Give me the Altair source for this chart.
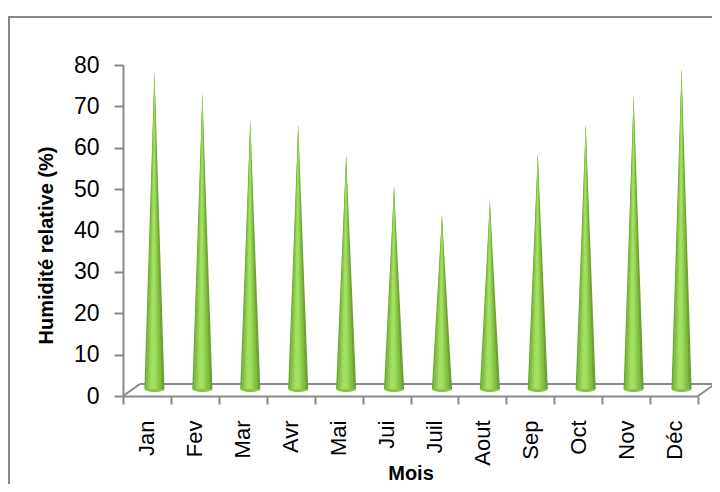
import altair as alt
import pandas as pd

months = ["Jan", "Fev", "Mar", "Avr", "Mai", "Jui", "Juil", "Aout", "Sep", "Oct", "Nov", "Déc"]
humidity = [77, 71.5, 65, 64, 56.5, 49, 42, 45.5, 57, 64, 71, 77.5]

HALF = 0.21  # cone half-width in category units
# shading strips of each cone: (left fraction, right fraction, colour), drawn back to front
SHADES = [(-1.0, 1.0, "#6ca334"), (-0.88, 0.72, "#7fbe41"), (-0.62, 0.42, "#91d150"), (-0.4, 0.14, "#a2e062")]

FONT = "Liberation Sans"
GRAY = "#898989"

xq = alt.Scale(domain=[-0.5, 11.5], nice=False, zero=False)
yscale = alt.Scale(domain=[0, 80], nice=False)

yaxis = alt.Axis(
    values=list(range(0, 81, 10)), title="Humidité relative (%)",
    grid=False, domainColor=GRAY, domainWidth=2, tickColor=GRAY, tickWidth=2,
    tickSize=9, labelFontSize=23, labelColor="black", labelFont=FONT, labelPadding=15,
    titleFont=FONT, titleFontSize=20, titleFontWeight="bold", titleColor="black",
    titleX=-77, titleY=180, titleAlign="center", titleBaseline="middle",
)

cone_layers = []
for k, (lo, hi, col) in enumerate(SHADES):
    rows = []
    for i, (m, v) in enumerate(zip(months, humidity)):
        rows.append({"month": m, "pos": i + lo * HALF, "val": 0})
        rows.append({"month": m, "pos": i, "val": v})
        rows.append({"month": m, "pos": i + hi * HALF, "val": 0})
    layer = alt.Chart(pd.DataFrame(rows)).mark_area(color=col, xOffset=7.5, yOffset=-7).encode(
        x=alt.X("pos:Q", scale=xq, axis=None),
        y=alt.Y("val:Q", scale=yscale, axis=yaxis),
        detail="month:N",
    )
    cone_layers.append(layer)

floor_src = pd.DataFrame({"a": [-0.5], "b": [11.5], "z": [0]})
back_edge = alt.Chart(floor_src).mark_rule(color=GRAY, strokeWidth=2, xOffset=17, x2Offset=17, yOffset=-12).encode(
    x=alt.X("a:Q", scale=xq, axis=None), x2="b:Q", y=alt.Y("z:Q", scale=yscale, axis=yaxis)
)
left_edge = alt.Chart(floor_src).mark_rule(color=GRAY, strokeWidth=2, x2Offset=17, y2Offset=-12).encode(
    x=alt.X("a:Q", scale=xq, axis=None), x2="a:Q", y=alt.Y("z:Q", scale=yscale, axis=yaxis), y2="z:Q"
)
right_edge = alt.Chart(floor_src).mark_rule(color=GRAY, strokeWidth=2, x2Offset=17, y2Offset=-12).encode(
    x=alt.X("b:Q", scale=xq, axis=None), x2="b:Q", y=alt.Y("z:Q", scale=yscale, axis=yaxis), y2="z:Q"
)

frame = alt.Chart(floor_src).mark_rect(fillOpacity=0, stroke=GRAY, strokeWidth=2).encode(
    x=alt.value(-114), x2=alt.value(640), y=alt.value(-48), y2=alt.value(470)
)

quant = alt.layer(frame, back_edge, left_edge, right_edge, *cone_layers)

xaxis = alt.Axis(
    labelAngle=-90, tickBand="extent", domainColor=GRAY, domainWidth=2, tickColor=GRAY,
    tickWidth=2, tickSize=8, labelFontSize=22, labelColor="black", labelFont=FONT,
    labelPadding=16, title="Mois", titleFont=FONT, titleFontSize=20, titleFontWeight="bold",
    titleColor="black", titleY=77, titleBaseline="middle",
)

bases = pd.DataFrame({"month": months, "val": [0] * len(months)})
base_pts = alt.Chart(bases).mark_point(
    shape="M -1 0 A 1 0.3 0 0 0 1 0 Z", size=400, filled=True, opacity=1,
    color="#86c547", xOffset=7.5, yOffset=-7,
).encode(
    x=alt.X("month:N", sort=months, scale=alt.Scale(paddingInner=0, paddingOuter=0), axis=xaxis),
    y=alt.Y("val:Q", scale=yscale, axis=yaxis),
)

chart = alt.layer(quant, base_pts).resolve_scale(x="independent").properties(
    width=575, height=331,
    padding={"left": 115, "top": 57, "right": 14, "bottom": 88},
    autosize=alt.AutoSizeParams(type="none"),
    background="white",
).configure_view(stroke=None)

chart.save("out.html", embed_options={"renderer": "svg", "actions": False})
